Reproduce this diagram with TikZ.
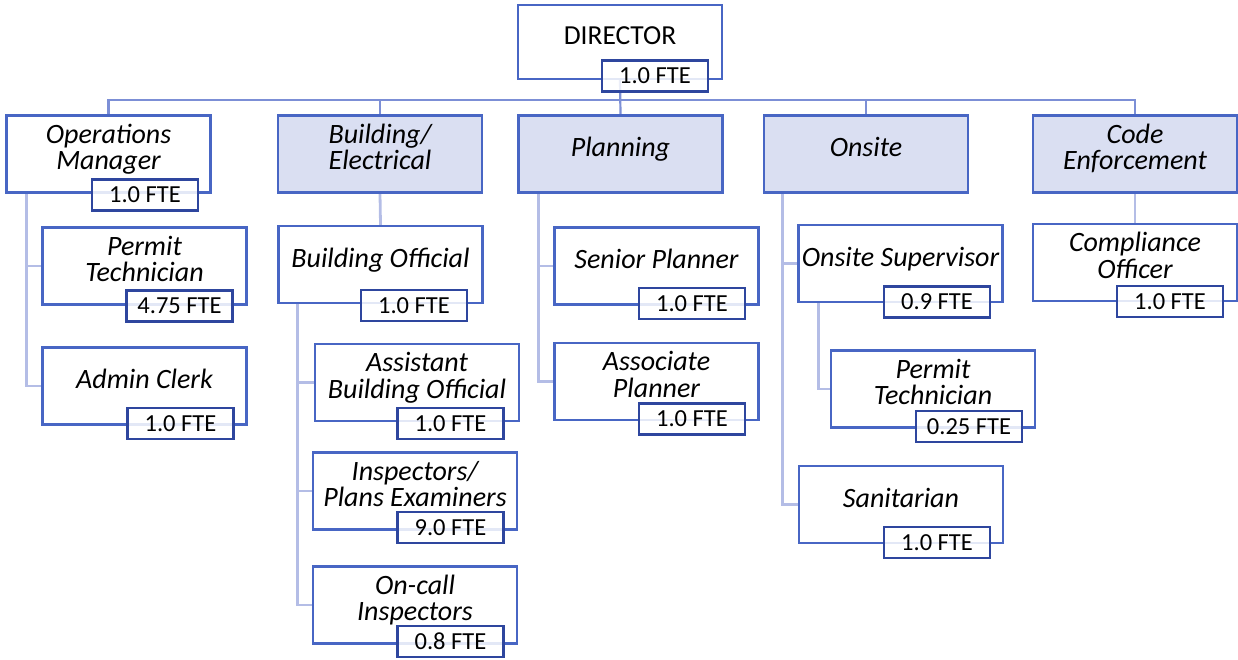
\documentclass[tikz,border=0pt]{standalone}
\usepackage{fontspec}
\setmainfont{Carlito}
\usetikzlibrary{backgrounds}

\definecolor{boxblue}{RGB}{72,102,196}
\definecolor{fteblue}{RGB}{46,70,158}
\definecolor{deptfill}{RGB}{218,223,242}
\definecolor{busblue}{RGB}{124,143,214}
\definecolor{subblue}{RGB}{180,189,230}

\tikzset{
  unitbox/.style={draw=boxblue, line width=2.4pt, fill=white,
    minimum width=204pt, minimum height=77pt, inner sep=0pt},
  deptbox/.style={unitbox, fill=deptfill},
  role/.style={font=\fontsize{28}{26.5}\selectfont\itshape, align=center,
    inner sep=0pt, text depth=0pt},
  headtext/.style={font=\fontsize{27.5}{26}\selectfont, inner sep=0pt, text depth=0pt},
  ftebox/.style={draw=fteblue, line width=2.8pt, fill=white, fill opacity=0.85,
    text opacity=1, minimum width=106pt, minimum height=31pt, inner sep=0pt,
    font=\fontsize{24.5}{25}\selectfont},
  busline/.style={draw=busblue, line width=2.2pt},
  subline/.style={draw=subblue, line width=2.8pt},
  % role titles sit a little above the middle of their box
  rolelift/.style={yshift=7pt},
}

\begin{document}
\begin{tikzpicture}[x=1pt, y=-1pt]
\useasboundingbox (0,0) rectangle (1238,659);

% ---------- Director ----------
\node[unitbox, minimum height=74pt] (dir) at (620,42) {};
\node[headtext] (dirT) at ([yshift=6pt]dir.center) {DIRECTOR};
\node[ftebox] (dirF) at (655,76) {1.0 FTE};

% ---------- Divisions ----------
\node[unitbox] (ops) at (108.5,154) {};
\node[role] (opsT) at ([rolelift]ops.center) {Operations\\Manager};
\node[ftebox] (opsF) at (145,195) {1.0 FTE};

\node[deptbox] (bld) at (380,154) {};
\node[role] (bldT) at ([rolelift]bld.center) {Building/\\Electrical};

\node[deptbox] (plan) at (620.5,154) {};
\node[role] (planT) at ([rolelift]plan.center) {Planning};

\node[deptbox] (ons) at (866,154) {};
\node[role] (onsT) at ([rolelift]ons.center) {Onsite};

\node[deptbox] (code) at (1135,154) {};
\node[role] (codeT) at ([rolelift]code.center) {Code\\Enforcement};

% ---------- Operations staff ----------
\node[unitbox] (opt) at (144.5,266) {};
\node[role] (optT) at ([rolelift]opt.center) {Permit\\Technician};
\node[ftebox] (optF) at (179.5,306) {4.75 FTE};

\node[unitbox] (adm) at (144.5,386) {};
\node[role] (admT) at ([rolelift]adm.center) {Admin Clerk};
\node[ftebox] (admF) at (180.5,423.5) {1.0 FTE};

% ---------- Building / Electrical staff ----------
\node[unitbox] (bo) at (380.5,264.5) {};
\node[role] (boT) at ([rolelift]bo.center) {Building Official};
\node[ftebox] (boF) at (414,305.5) {1.0 FTE};

\node[unitbox] (abo) at (417,382.5) {};
\node[role] (aboT) at ([rolelift]abo.center) {Assistant\\Building Official};
\node[ftebox] (aboF) at (450.5,423.5) {1.0 FTE};

\node[unitbox] (ins) at (415,491) {};
\node[role] (insT) at ([rolelift]ins.center) {Inspectors/\\Plans Examiners};
\node[ftebox] (insF) at (450.5,527.5) {9.0 FTE};

\node[unitbox] (onc) at (415,605) {};
\node[role] (oncT) at ([rolelift]onc.center) {On-call\\Inspectors};
\node[ftebox] (oncF) at (450.5,641.5) {0.8 FTE};

% ---------- Planning staff ----------
\node[unitbox] (sp) at (656.5,266) {};
\node[role] (spT) at ([rolelift]sp.center) {Senior Planner};
\node[ftebox] (spF) at (692,303.5) {1.0 FTE};

\node[unitbox] (ap) at (656.5,381.5) {};
\node[role] (apT) at ([rolelift]ap.center) {Associate\\Planner};
\node[ftebox] (apF) at (692,419) {1.0 FTE};

% ---------- Onsite staff ----------
\node[unitbox] (os) at (900.5,263.5) {};
\node[role] (osT) at ([rolelift]os.center) {Onsite Supervisor};
\node[ftebox] (osF) at (937,302) {0.9 FTE};

\node[unitbox] (opt2) at (933,389) {};
\node[role] (opt2T) at ([rolelift]opt2.center) {Permit\\Technician};
\node[ftebox] (opt2F) at (969,426.5) {0.25 FTE};

\node[unitbox] (san) at (901,504.5) {};
\node[role] (sanT) at ([rolelift]san.center) {Sanitarian};
\node[ftebox] (sanF) at (937,542.5) {1.0 FTE};

% ---------- Code Enforcement staff ----------
\node[unitbox] (co) at (1135,262.5) {};
\node[role] (coT) at ([rolelift]co.center) {Compliance\\Officer};
\node[ftebox] (coF) at (1170,301.5) {1.0 FTE};

% ---------- Connectors ----------
\coordinate (busL) at (108.5,100);
\begin{scope}[on background layer]
  \draw[busline] (dir.south) -- (plan.north);
  \draw[busline] (ops.north) -- (busL) -| (code.north);
  \draw[busline] (bld.north) -- (bld.north |- busL);
  \draw[busline] (ons.north) -- (ons.north |- busL);

  \draw[subline] ([xshift=21pt]ops.south west) |- (opt.west);
  \draw[subline] ([xshift=21pt]ops.south west) |- (adm.west);

  \draw[subline] (bld.south) -- (bo.north);
  \draw[subline] ([xshift=20pt]bo.south west) |- (abo.west);
  \draw[subline] ([xshift=20pt]bo.south west) |- (ins.west);
  \draw[subline] ([xshift=20pt]bo.south west) |- (onc.west);

  \draw[subline] ([xshift=21pt]plan.south west) |- (sp.west);
  \draw[subline] ([xshift=21pt]plan.south west) |- (ap.west);

  \draw[subline] ([xshift=20pt]ons.south west) |- (os.west);
  \draw[subline] ([xshift=20pt]ons.south west) |- (san.west);
  \draw[subline] ([xshift=21pt]os.south west) |- (opt2.west);

  \draw[subline] (code.south) -- (co.north);
\end{scope}
\end{tikzpicture}
\end{document}
